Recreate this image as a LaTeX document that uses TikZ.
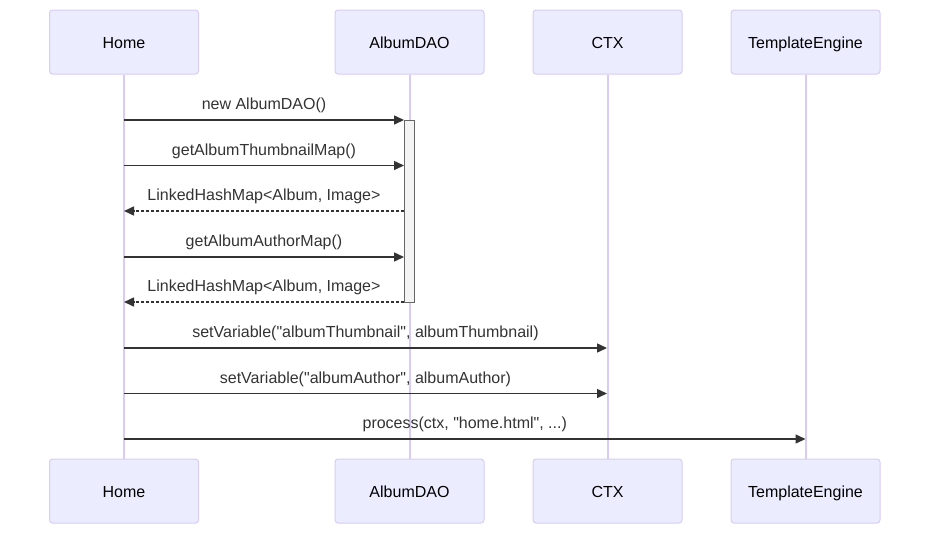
\documentclass[tikz,border=0pt]{standalone}
\usepackage{fontspec}
\setmainfont{Liberation Sans}
\font\msgfont="Liberation Sans" at 16pt
\usetikzlibrary{arrows.meta}
\definecolor{actfill}{HTML}{ECECFF}
\definecolor{actline}{HTML}{D8CCF4}
\definecolor{msg}{HTML}{333333}
\definecolor{actvfill}{HTML}{F4F4F4}
\definecolor{actvline}{HTML}{666666}
\begin{document}
\begin{tikzpicture}[x=1pt,y=-1pt,
  actor/.style={draw=actline,fill=actfill,rounded corners=3pt,minimum width=149pt,minimum height=64pt,inner sep=0pt,font=\msgfont,line width=1pt},
  atext/.style={font=\msgfont,inner sep=0pt,anchor=base},
  life/.style={draw=actline,line width=2pt},
  call/.style={draw=msg,line width=1.5pt,-{Triangle[length=10pt,width=9pt]}},
  ret/.style={call,dash pattern=on 3pt off 2pt},
  lbl/.style={font=\msgfont,text=msg,inner sep=0pt,anchor=base},
  actv/.style={draw=actvline,fill=actvfill,line width=1pt,inner sep=0pt,minimum width=10pt}]
\useasboundingbox (0,0) rectangle (938,539);
% top actors
\node[actor] (homeT) at (124,42) {};
\node[actor] (daoT) at (409.5,42) {};
\node[actor] (ctxT) at (607.5,42) {};
\node[actor] (teT) at (805.5,42) {};
\node[atext] (homeTt) at ([yshift=-6.8pt]homeT.center) {Home};
\node[atext] (daoTt) at ([yshift=-6.8pt]daoT.center) {AlbumDAO};
\node[atext] (ctxTt) at ([yshift=-6.8pt]ctxT.center) {CTX};
\node[atext] (teTt) at ([yshift=-6.8pt]teT.center) {TemplateEngine};
% bottom actors
\node[actor] (homeB) at (124,491) {};
\node[actor] (daoB) at (409.5,491) {};
\node[actor] (ctxB) at (607.5,491) {};
\node[actor] (teB) at (805.5,491) {};
\node[atext] (homeBt) at ([yshift=-6.8pt]homeB.center) {Home};
\node[atext] (daoBt) at ([yshift=-6.8pt]daoB.center) {AlbumDAO};
\node[atext] (ctxBt) at ([yshift=-6.8pt]ctxB.center) {CTX};
\node[atext] (teBt) at ([yshift=-6.8pt]teB.center) {TemplateEngine};
% lifelines
\draw[life] (homeT.south) -- (homeB.north);
\draw[life] (daoT.south) -- (daoB.north);
\draw[life] (ctxT.south) -- (ctxB.north);
\draw[life] (teT.south) -- (teB.north);
% activation
\node[actv,minimum height=182pt] (act) at (409,211) {};
% endpoints
\coordinate (h1) at (124,120); \coordinate (a1) at (404,120);
\coordinate (h2) at (124,165.5); \coordinate (a2) at (404,165.5);
\coordinate (h3) at (124,211); \coordinate (a3) at (404,211);
\coordinate (h4) at (124,257); \coordinate (a4) at (404,257);
\coordinate (h5) at (124,302); \coordinate (a5) at (404,302);
\coordinate (h6) at (124,348); \coordinate (c6) at (607,348);
\coordinate (h7) at (124,393.5); \coordinate (c7) at (607,393.5);
\coordinate (h8) at (124,439); \coordinate (t8) at (805.5,439);
% messages
\draw[call] (h1) -- (a1) node[lbl,midway,yshift=10.2pt] (l1) {new AlbumDAO()};
\draw[call] (h2) -- (a2) node[lbl,midway,yshift=10.2pt] (l2) {getAlbumThumbnailMap()};
\draw[ret] (a3) -- (h3) node[lbl,midway,yshift=10.2pt] (l3) {LinkedHashMap<Album, Image>};
\draw[call] (h4) -- (a4) node[lbl,midway,yshift=10.2pt] (l4) {getAlbumAuthorMap()};
\draw[ret] (a5) -- (h5) node[lbl,midway,yshift=10.2pt] (l5) {LinkedHashMap<Album, Image>};
\draw[call] (h6) -- (c6) node[lbl,midway,yshift=10.2pt] (l6) {setVariable("albumThumbnail", albumThumbnail)};
\draw[call] (h7) -- (c7) node[lbl,midway,yshift=10.2pt] (l7) {setVariable("albumAuthor", albumAuthor)};
\draw[call] (h8) -- (t8) node[lbl,midway,yshift=10.2pt] (l8) {process(ctx, "home.html", ...)};
\end{tikzpicture}
\end{document}
